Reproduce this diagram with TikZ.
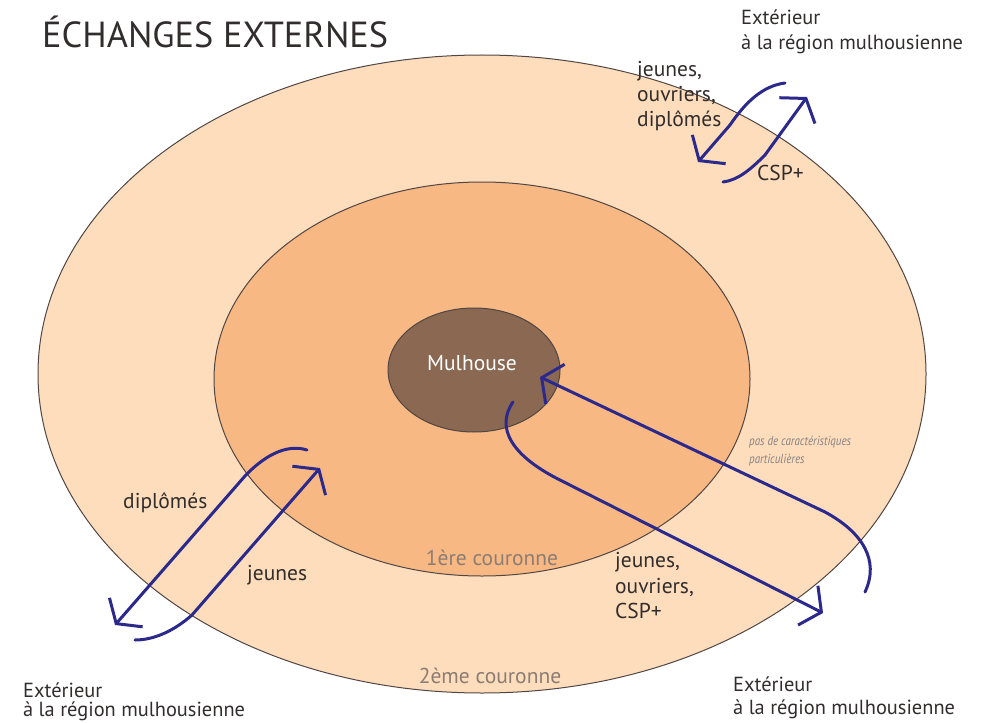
\documentclass[tikz,border=0pt]{standalone}
\usepackage{fontspec}
\setmainfont{PT Sans}
\usetikzlibrary{arrows.meta}
\definecolor{outerfill}{RGB}{253,221,188}
\definecolor{midfill}{RGB}{248,184,132}
\definecolor{innerfill}{RGB}{138,104,82}
\definecolor{ringline}{RGB}{80,70,68}
\definecolor{flowblue}{RGB}{43,42,140}
\definecolor{darktext}{RGB}{50,45,45}
\definecolor{ringtext}{RGB}{140,125,116}
\definecolor{notetext}{RGB}{135,130,130}
\tikzset{
  ring/.style={draw=ringline, line width=1pt},
  flow/.style={draw=flowblue, line width=3pt, line cap=round, line join=round,
    -{Straight Barb[length=15pt,width=44pt]}},
  extlbl/.style={anchor=base west, inner sep=0pt, text=darktext, font=\fontsize{20.4}{24}\selectfont},
  lbl/.style={anchor=base west, inner sep=0pt, text=darktext, font=\fontsize{21.5}{25}\selectfont},
  ringlbl/.style={anchor=base, inner sep=0pt, text=ringtext, font=\fontsize{21.5}{25}\selectfont},
  note/.style={anchor=base west, inner sep=0pt, text=notetext, font=\fontsize{13}{15}\selectfont\itshape},
}
\begin{document}
\begin{tikzpicture}[x=1pt,y=-1pt]
\useasboundingbox (0,0) rectangle (984,722);
% rings
\draw[ring, fill=outerfill] (482,374) ellipse [x radius=444, y radius=319];
\draw[ring, fill=midfill] (482,379) ellipse [x radius=268, y radius=197];
\draw[ring, fill=innerfill] (474,370) ellipse [x radius=86, y radius=62];
% title
\node[anchor=base west, inner sep=0pt, text=darktext, font=\fontsize{36.3}{40}\selectfont] (title) at (42,48) {ÉCHANGES EXTERNES};
% outside labels
\node[extlbl] (ext1a) at (741,25) {Extérieur};
\node[extlbl] (ext1b) at (741,50) {à la région mulhousienne};
\node[extlbl] (ext2a) at (23,697) {Extérieur};
\node[extlbl] (ext2b) at (23,716) {à la région mulhousienne};
\node[extlbl] (ext3a) at (733,691) {Extérieur};
\node[extlbl] (ext3b) at (733,714) {à la région mulhousienne};
% ring labels
\node[text=white, anchor=base, inner sep=0pt, font=\fontsize{21.5}{25}\selectfont] (mul) at (472,370) {Mulhouse};
\node[ringlbl] (c1) at (492,565) {1ère couronne};
\node[ringlbl] (c2) at (490,683) {2ème couronne};
% flow labels
\node[lbl] (tr1) at (637,77) {jeunes,};
\node[lbl] (tr2) at (637,102) {ouvriers,};
\node[lbl] (tr3) at (637,127) {diplômés};
\node[lbl] (tr4) at (757,180) {CSP+};
\node[lbl] (l1) at (123,508) {diplômés};
\node[lbl] (l2) at (247,580) {jeunes};
\node[lbl] (br1) at (615,567) {jeunes,};
\node[lbl] (br2) at (615,593) {ouvriers,};
\node[lbl] (br3) at (615,618) {CSP+};
\node[note] (n1) at (749,445) {\scalebox{0.85}[1]{pas de caractéristiques}};
\node[note] (n2) at (749,463) {\scalebox{0.85}[1]{particulières}};
% flow endpoints
\coordinate (a0) at (785,83);  \coordinate (a1) at (698,162);
\coordinate (b0) at (723,182); \coordinate (b1) at (807,97);
\coordinate (c0) at (307,450); \coordinate (c1e) at (115,625);
\coordinate (d0) at (135,640); \coordinate (d1) at (320,468);
\coordinate (e0) at (865,592); \coordinate (e1) at (540,377);
\coordinate (f0) at (513,402); \coordinate (f1) at (823,613);
% flows
\draw[flow] (a0) .. controls (762,86) and (745,103) .. (730,125) -- (a1);
\draw[flow] (b0) .. controls (738,180) and (750,170) .. (765,155) -- (b1);
\draw[flow] (c0) .. controls (285,443) and (262,458) .. (245,476) -- (c1e);
\draw[flow] (d0) .. controls (155,640) and (175,630) .. (192,615) -- (d1);
\draw[flow] (e0) .. controls (880,560) and (862,532) .. (825,512) -- (e1);
\draw[flow] (f0) .. controls (495,428) and (512,456) .. (560,480) -- (f1);
\end{tikzpicture}
\end{document}
